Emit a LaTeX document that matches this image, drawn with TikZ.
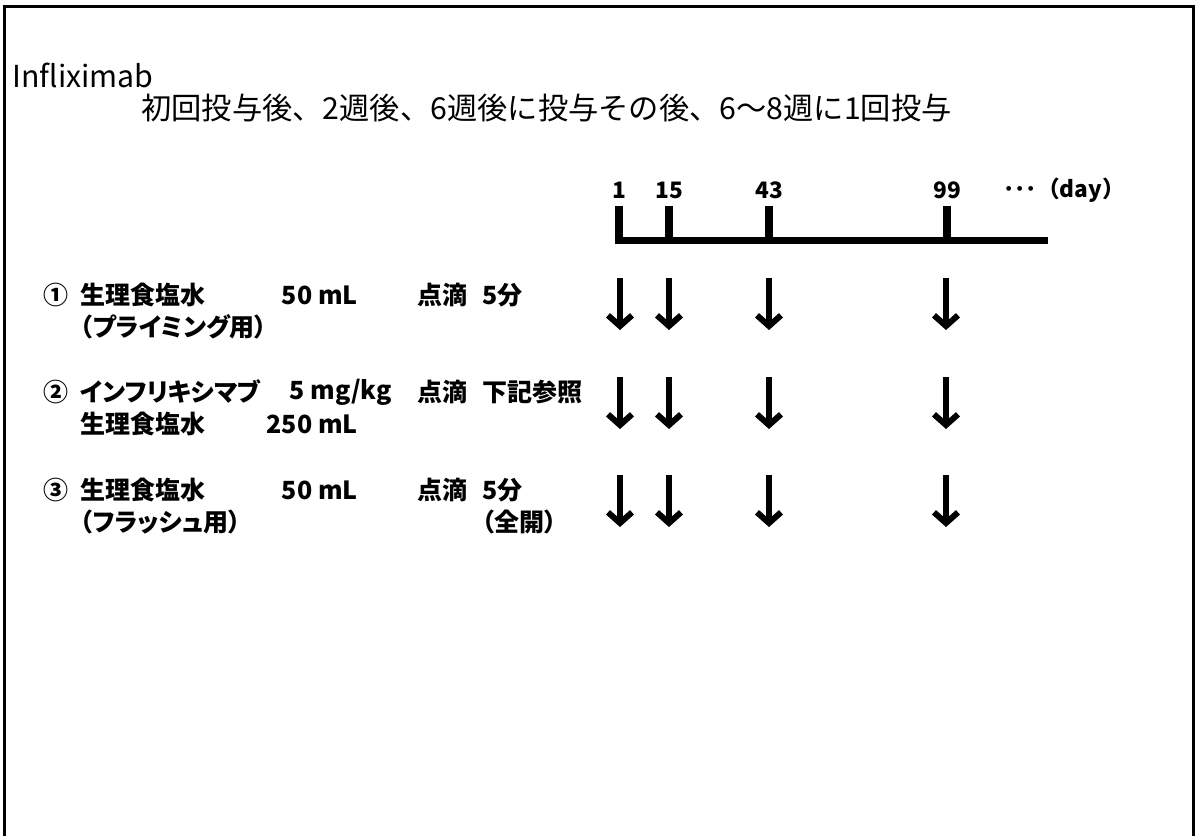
\documentclass[tikz,border=0pt]{standalone}
\usepackage{fontspec}
\setmainfont{Noto Sans CJK JP}
\newfontfamily\rowfont{Noto Sans CJK JP}[RawFeature=+palt]
\usepackage{tikz}
\usetikzlibrary{arrows.meta, positioning}

\begin{document}
\begin{tikzpicture}[
  x=0.75pt, y=-0.75pt,
  title/.style={font=\fontsize{22.7}{27}\selectfont, inner sep=0pt},
  daylabel/.style={font=\fontsize{17}{20}\selectfont\bfseries, inner sep=0pt},
  item/.style={font=\fontsize{18.75}{22}\selectfont\rowfont\bfseries, inner sep=0pt, anchor=west},
  axisline/.style={line width=5.25pt},
  daytick/.style={line width=6pt},
  dose/.style={line width=4.5pt, -{Straight Barb[length=8pt, width=18pt]}}
]
  \useasboundingbox (0,0) rectangle (1197,836);
  % Frame (open at the bottom)
  \draw[line width=2.25pt] (4,836) -- (4,6) -- (1193,6) -- (1193,836);

  % Title
  \node[title, anchor=base west] (drug) at (12,87) {Infliximab};
  \node[title, anchor=west] (plan) at (141,108) {初回投与後、2週後、6週後に投与その後、6〜8週に1回投与};

  % Day axis
  \coordinate (axisstart) at (615,240.5);
  \coordinate (axisend) at (1048,240.5);
  \draw[axisline] (axisstart) -- (axisend);
  \foreach \d/\x in {1/619, 15/669, 43/769, 99/947} {
    \node[daylabel] (day\d) at (\x,190.5) {\d};
    \draw[daytick] (\x,206) -- (\x,244);
  }
  \node[daylabel, anchor=west] (more) at (1003,190.5) {･･･（day）};

  % Dose arrows
  \foreach \y in {278, 377, 475} {
    \foreach \x in {620, 669, 769, 946} {
      \draw[dose] (\x,\y) -- (\x,\y+52);
    }
  }

  % Regimen rows
  \foreach \mark/\y/\name/\vx/\vol/\time [count=\r] in {
    ①/295/生理食塩水/358/{50 mL}/5分,
    ②/392/インフリキシマブ/392/{5 mg/kg}/下記参照,
    ③/490/生理食塩水/358/{50 mL}/5分%
  } {
    \node[item, anchor=center] (no\r) at (56,\y) {\mark};
    \node[item] (drug\r) at (80,\y) {\name};
    \node[item, anchor=east] (vol\r) at (\vx,\y) {\vol};
    \node[item] (route\r) at (417,\y) {点滴};
    \node[item] (time\r) at (482,\y) {\time};
  }
  \node[item] (use1) at (80,327) {（プライミング用）};
  \node[item] (base2) at (80,424) {生理食塩水};
  \node[item, anchor=east] (basevol2) at (358,424) {250 mL};
  \node[item] (use3) at (80,522) {（フラッシュ用）};
  \node[item] (rate3) at (482,522) {（全開）};
\end{tikzpicture}
\end{document}
